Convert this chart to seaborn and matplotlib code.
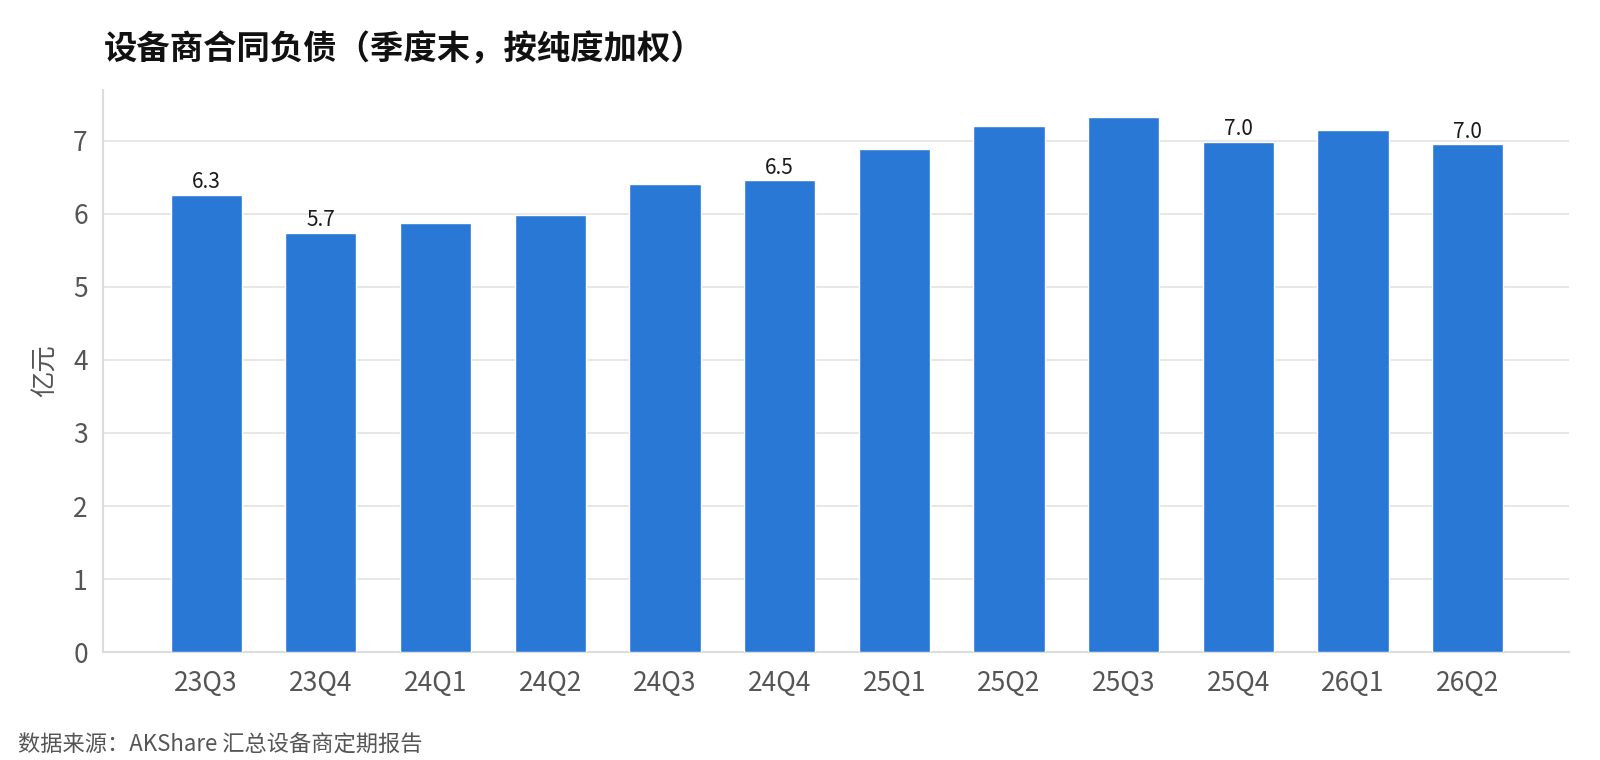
import matplotlib
matplotlib.use("Agg")
import matplotlib.pyplot as plt
import seaborn as sns
import pandas as pd

quarters = ["23Q3", "23Q4", "24Q1", "24Q2", "24Q3", "24Q4",
            "25Q1", "25Q2", "25Q3", "25Q4", "26Q1", "26Q2"]
values = [6.26, 5.74, 5.88, 5.99, 6.41, 6.46, 6.89, 7.20, 7.32, 6.99, 7.15, 6.95]
labeled = ["23Q3", "23Q4", "24Q4", "25Q4", "26Q2"]

title = "设备商合同负债（季度末，按纯度加权）"
ylabel = "亿元"
source = "数据来源：AKShare 汇总设备商定期报告"

sns.set_theme(style="white")
plt.rcParams["font.family"] = ["Noto Sans CJK SC", "DejaVu Sans"]

df = pd.DataFrame({"q": quarters, "v": values})

fig = plt.figure(figsize=(16, 7.6), dpi=100)
ax = fig.add_axes([0.0644, 0.142, 0.916, 0.74])

sns.barplot(data=df, x="q", y="v", color="#2a78d6", width=0.62,
            saturation=1, ax=ax, zorder=3)

for i, (q, v) in enumerate(zip(quarters, values)):
    if q in labeled:
        ax.text(i, v + 0.02, f"{v:.1f}", ha="center", va="bottom",
                fontsize=15, color="#1a1a1a", zorder=4)

ax.set_ylim(0, 7.7)
ax.set_xlim(-0.9, 11.88)
ax.set_yticks(range(0, 8))
ax.yaxis.grid(True, color="#e3e3e3", linewidth=1.2, zorder=0)
ax.set_axisbelow(True)
for s in ["top", "right"]:
    ax.spines[s].set_visible(False)
for s in ["left", "bottom"]:
    ax.spines[s].set_color("#dcdcdc")
    ax.spines[s].set_linewidth(1.5)
ax.tick_params(axis="both", colors="#555555", labelsize=19, length=6,
               width=1.5, direction="out", labelcolor="#555555")
ax.tick_params(axis="x", pad=7)
ax.tick_params(axis="y", pad=5)
ax.set_xlabel("")
ax.set_ylabel(ylabel, fontsize=19, color="#555555", labelpad=10)

fig.text(0.065, 0.935, title, fontsize=24, fontweight="bold", color="#111111",
         ha="left", va="center")
fig.text(0.011, 0.02, source, fontsize=16, color="#555555", ha="left", va="center")

fig.savefig("out.png", dpi=100)
